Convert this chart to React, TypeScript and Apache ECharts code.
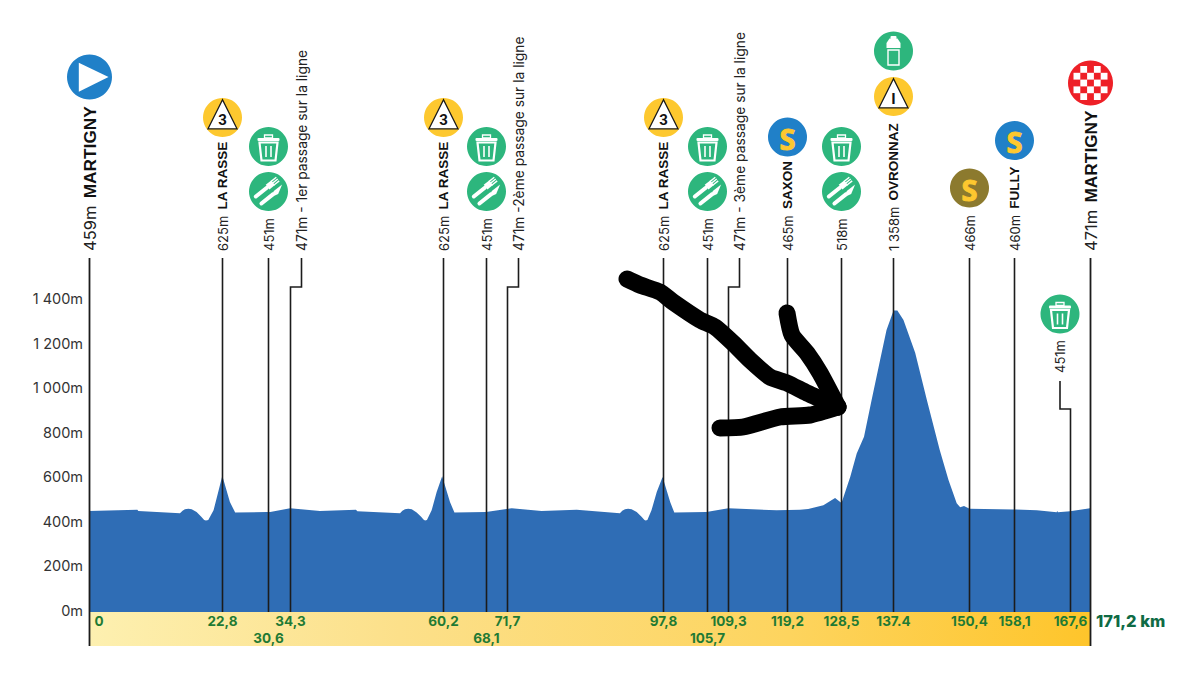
import React, { useEffect, useRef } from "react";
import * as echarts from "echarts";

// ---- data ----
const profileKm = [0, 8.27, 8.44, 15.56, 16, 16.4, 17, 17.56, 18.4, 19.2, 19.7, 20, 20.4, 21.3, 22.1, 22.8, 24.1, 25, 30.4, 31, 34.4, 39.5, 45.66, 45.9, 53.2, 53.6, 54.04, 54.6, 55.2, 56.04, 56.8, 57.2, 57.47, 57.8, 58.6, 59.46, 60.4, 61.74, 62.5, 67.9, 72.3, 77.4, 83.4, 90.8, 91.2, 91.67, 92.2, 92.8, 93.67, 94.5, 95, 95.2, 95.5, 96.2, 97.1, 98.1, 99.4, 100.1, 105.6, 109.35, 117.6, 121.6, 123, 125.6, 127.6, 128.7, 130.2, 131.3, 132.55, 133.85, 135.3, 136.4, 137.6, 138.25, 139.3, 141.3, 143.3, 145.5, 147, 148.4, 149, 149.65, 150.6, 158.1, 162.1, 165.5, 165.6, 165.7, 167.8, 171.2];
const profileAlt = [454, 460, 454, 444, 455, 462, 464, 462, 450, 428, 414, 411, 414, 457, 540, 612, 495, 447, 450, 450, 466, 454, 460, 453, 444, 455, 462, 464, 462, 447, 428, 416, 411, 414, 457, 540, 610, 495, 447, 450, 466, 454, 460, 444, 455, 462, 464, 462, 450, 428, 414, 411, 414, 457, 540, 607, 495, 447, 450, 466, 457, 460, 463, 480, 513, 490, 608, 713, 788, 953, 1133, 1268, 1355, 1355, 1313, 1165, 953, 728, 593, 489, 471, 476, 464, 461, 458, 448, 455, 448, 453, 466];

const stopKm = [0, 22.8, 30.6, 34.3, 60.5, 67.85, 71.45, 98.1, 105.7, 109.3, 119.3, 128.6, 137.45, 150.56, 158.27, 167.7, 171.2];
const stopAltText = ["459m", "625m", "451m", "471m", "625m", "451m", "471m", "625m", "451m", "471m", "465m", "518m", "1 358m", "466m", "460m", "451m", "471m"];
const stopNames = ["MARTIGNY", "LA RASSE", "", "", "LA RASSE", "", "", "LA RASSE", "", "", "SAXON", "", "OVRONNAZ", "", "FULLY", "", "MARTIGNY"];
const stopNotes = ["", "", "", " - 1er passage sur la ligne", "", "", " -2ème passage sur la ligne", "", "", " - 3ème passage sur la ligne", "", "", "", "", "", "", ""];
const stopIcons = [["start"], ["cat3"], ["trash", "food"], [], ["cat3"], ["trash", "food"], [], ["cat3"], ["trash", "food"], [], ["sprintBlue"], ["trash", "food"], ["cat1", "bottle"], ["sprintOlive"], ["sprintBlue"], ["trash"], ["finish"]];
const kmLabels = ["0", "22,8", "30,6", "34,3", "60,2", "68,1", "71,7", "97,8", "105,7", "109,3", "119,2", "128,5", "137.4", "150,4", "158,1", "167,6", ""];
const totalLabel = "171,2 km";
const yTicks = [0, 200, 400, 600, 800, 1000, 1200, 1400];
const yTickLabels = ["0m", "200m", "400m", "600m", "800m", "1 000m", "1 200m", "1 400m"];

// ---- layout (pixels), kept apart from the data ----
const PLOT_L = 89, PLOT_R = 1090, PLOT_T = 300.6, PLOT_B = 612, BAND_B = 646, LINE_TOP = 258;
const kmRow = [0, 0, 1, 0, 0, 1, 0, 0, 1, 0, 0, 0, 0, 0, 0, 0, 0];
const iconY = [[77], [117.5], [146.5, 191.5], [], [117.5], [146.5, 191.5], [], [117.5], [146.5, 191.5], [], [137], [146.5, 191.5], [96.5, 51], [188], [140.5], [314], [83]];
const scribbles = [
  [[627, 279], [640, 285], [660, 292], [673, 302], [700, 320], [715, 327], [733, 343], [750, 360], [770, 377], [787, 383], [807, 393], [838, 407]],
  [[787, 313], [792, 335], [807, 353], [820, 373], [838, 407]],
  [[720, 428], [743, 427], [780, 417], [810, 415], [838, 407]],
];

const BLUE = "#2080C8", GREEN = "#2DB67D", YEL = "#FDC82F", OLIVE = "#8C7A2E", RED = "#EE2027";
const FONT = "Inter";
const TICKFONT = "Inter";

function iconEls(kind: string, cx: number, cy: number): any[] {
  const circle = (r: number, fill: string) => ({ type: "circle", shape: { cx, cy, r }, style: { fill } });
  const poly = (pts: number[][], style: any) => ({ type: "polygon", shape: { points: pts.map(([a, b]) => [cx + a, cy + b]) }, style });
  const rect = (x: number, y: number, width: number, height: number, style: any, r = 0) => ({ type: "rect", shape: { x: cx + x, y: cy + y, width, height, r }, style });
  if (kind === "start") return [circle(22.5, BLUE), poly([[-10.7, -14.3], [19, 0], [-10.7, 14.7]], { fill: "#fff" })];
  if (kind === "cat3" || kind === "cat1") {
    return [
      circle(19.5, YEL),
      poly([[0, -17.7], [-14.5, 11.3], [14.5, 11.3]], { fill: "#fff", stroke: "#1a1a1a", lineWidth: 1.3 }),
      { type: "text", x: cx, y: cy + 2, style: { text: kind === "cat3" ? "3" : "I", fontFamily: "Roboto", fontWeight: "bold", fontSize: 15, fill: "#111", align: "center", verticalAlign: "middle" } },
    ];
  }
  if (kind === "sprintBlue" || kind === "sprintOlive") {
    return [
      circle(19.5, kind === "sprintBlue" ? BLUE : OLIVE),
      { type: "text", x: cx, y: cy + 1, style: { text: "S", fontFamily: "Open Sans", fontWeight: "bold", fontSize: 29, fill: YEL, stroke: YEL, lineWidth: 1, align: "center", verticalAlign: "middle" } },
    ];
  }
  if (kind === "trash") {
    const w = { fill: "#fff" };
    return [
      circle(19.5, GREEN),
      rect(-11, -8.5, 22, 3, w, 1),
      rect(-4, -11.5, 8, 3, { fill: "none", stroke: "#fff", lineWidth: 1.3 }),
      poly([[-9, -4], [9, -4], [7, 14], [-7, 14]], { fill: "none", stroke: "#fff", lineWidth: 2.2 }),
      rect(-3.3, -0.5, 1.6, 11, w),
      rect(1.7, -0.5, 1.6, 11, w),
    ];
  }
  if (kind === "food") {
    return [
      circle(19.5, GREEN),
      {
        type: "group", x: cx, y: cy, rotation: -0.9,
        children: [
          { type: "rect", shape: { x: -6, y: -3, width: 4, height: 18, r: 2 }, style: { fill: "#fff" } },
          { type: "rect", shape: { x: -7, y: -9, width: 6, height: 7 }, style: { fill: "#fff" } },
          { type: "rect", shape: { x: -7, y: -15, width: 1.4, height: 7 }, style: { fill: "#fff" } },
          { type: "rect", shape: { x: -4.7, y: -15, width: 1.4, height: 7 }, style: { fill: "#fff" } },
          { type: "rect", shape: { x: -2.4, y: -15, width: 1.4, height: 7 }, style: { fill: "#fff" } },
          { type: "rect", shape: { x: 3, y: -4, width: 4, height: 19, r: 2 }, style: { fill: "#fff" } },
          { type: "polygon", shape: { points: [[3, -4], [3, -15], [8, -6], [7, -2]] }, style: { fill: "#fff" } },
        ],
      },
    ];
  }
  if (kind === "bottle") {
    return [
      circle(19.5, GREEN),
      rect(-3, -15, 6, 3, { fill: "#fff" }, 1),
      poly([[-4, -12.5], [4, -12.5], [7, -8], [7, -3], [-7, -3], [-7, -8]], { fill: "#fff" }),
      rect(-5.5, -1, 11, 15, { fill: GREEN, stroke: "#fff", lineWidth: 1.4 }),
    ];
  }
  if (kind === "finish") {
    const cell = 6.8;
    const out: any[] = [circle(22.5, RED)];
    for (let i = -3; i <= 3; i++) {
      for (let j = -3; j <= 3; j++) {
        if ((i + j + 6) % 2 === 0) continue;
        const d = Math.hypot(i * cell, j * cell);
        if (d > 20) continue;
        out.push(rect(i * cell - cell / 2, j * cell - cell / 2, cell, cell, { fill: "#fff" }));
      }
    }
    return out;
  }
  return [];
}

function renderStop(params: any, api: any) {
  const i = params.dataIndex;
  const x = Math.round(api.coord([api.value(0), 0])[0]) + 0.5;
  const bottom = i === 0 || i === stopKm.length - 1 ? BAND_B : PLOT_B;
  const line = { stroke: "#1c1c1c", lineWidth: i === 0 || i === stopKm.length - 1 ? 1.8 : 1.6, fill: "none" };
  const children: any[] = [];
  const jogged = stopNotes[i] !== "";
  const isSupply167 = i === 15;
  let labelX = x;
  let labelY = 251;
  if (jogged) {
    labelX = x + 11;
    children.push({ type: "polyline", shape: { points: [[x, bottom], [x, 287], [labelX, 287], [labelX, LINE_TOP]] }, style: line });
  } else if (isSupply167) {
    labelX = x - 10.5;
    labelY = 373;
    children.push({ type: "polyline", shape: { points: [[x, bottom], [x, 409], [labelX, 409], [labelX, 381]] }, style: line });
  } else {
    children.push({ type: "line", shape: { x1: x, y1: bottom, x2: x, y2: LINE_TOP }, style: line });
  }
  const big = i === 0 || i === stopKm.length - 1;
  const name = stopNames[i];
  const altSize = big ? 16.5 : jogged ? 13.8 : 13;
  const nameSize = big ? 17.3 : 13.5;
  const text = name ? `{a|${stopAltText[i]}}{g| }{b|${name}}` : `{a|${stopAltText[i]}${stopNotes[i]}}`;
  children.push({
    type: "text", x: labelX, y: labelY, rotation: Math.PI / 2,
    style: {
      text, align: "left", verticalAlign: "middle",
      rich: {
        a: { fontFamily: FONT, fontSize: altSize, fill: "#222", color: "#222" },
        g: { fontFamily: FONT, fontSize: big ? 26 : 22, fill: "#222", color: "#222" },
        b: { fontFamily: "Liberation Sans", fontWeight: "bold", fontSize: nameSize, fill: "#111", color: "#111" },
      },
    },
  });
  stopIcons[i].forEach((k, n) => children.push(...iconEls(k, isSupply167 ? labelX : x, iconY[i][n])));
  if (kmLabels[i]) {
    children.push({
      type: "text", x: i === 0 ? x + 9.5 : x, y: kmRow[i] ? 638 : 620.7,
      style: { text: kmLabels[i], fontFamily: TICKFONT, fontWeight: 700, fontSize: 13.5, fill: "#1F7A34", align: "center", verticalAlign: "middle" },
    });
  }
  return { type: "group", children };
}

export default function App() {
  const ref = useRef<HTMLDivElement>(null);
  useEffect(() => {
    const chart = echarts.init(ref.current!, undefined, { renderer: "svg" });
    chart.setOption({
      animation: false,
      backgroundColor: "#fff",
      grid: { left: PLOT_L, right: 1200 - PLOT_R, top: PLOT_T, bottom: 680 - PLOT_B },
      xAxis: { type: "value", min: 0, max: 171.2, show: false },
      yAxis: {
        type: "value", min: 0, max: 1400, interval: 200,
        axisLine: { show: false }, axisTick: { show: false }, splitLine: { show: false },
        axisLabel: {
          margin: 6, color: "#333", fontFamily: TICKFONT, fontSize: 14.5,
          verticalAlign: "bottom", lineHeight: 4,
          formatter: (v: number) => yTickLabels[yTicks.indexOf(v)],
        },
      },
      graphic: [
        {
          type: "rect", z: 0, shape: { x: PLOT_L, y: PLOT_B, width: PLOT_R - PLOT_L, height: BAND_B - PLOT_B },
          style: {
            fill: {
              type: "linear", x: 0, y: 0, x2: 1, y2: 0,
              colorStops: [{ offset: 0, color: "#FDF0B0" }, { offset: 0.31, color: "#FCE08A" }, { offset: 0.7, color: "#FDD45E" }, { offset: 1, color: "#FEC52B" }],
            },
          },
        },
        {
          type: "text", x: 1096, y: 621, z: 10,
          style: { text: totalLabel, fontFamily: TICKFONT, fontWeight: 800, fontSize: 16.5, fill: "#0F6B45", align: "left", verticalAlign: "middle" },
        },
        ...scribbles.map((pts) => ({
          type: "polyline", z: 100, shape: { points: pts, smooth: 0.2 },
          style: { stroke: "#000", lineWidth: 17, lineCap: "round", lineJoin: "round", fill: "none" },
        })),
      ],
      series: [
        {
          type: "line", z: 1, symbol: "none", silent: true,
          data: profileKm.map((k, i) => [k, profileAlt[i]]),
          lineStyle: { width: 0 },
          areaStyle: { color: "#2F6DB5", opacity: 1 },
        },
        {
          type: "custom", z: 3, silent: true, clip: false,
          data: stopKm.map((k) => [k, 0]),
          encode: { x: 0, y: 1 },
          renderItem: renderStop,
        },
      ],
    });
    return () => chart.dispose();
  }, []);
  return <div ref={ref} style={{ position: "absolute", left: 0, top: 0, width: 1200, height: 680 }} />;
}
